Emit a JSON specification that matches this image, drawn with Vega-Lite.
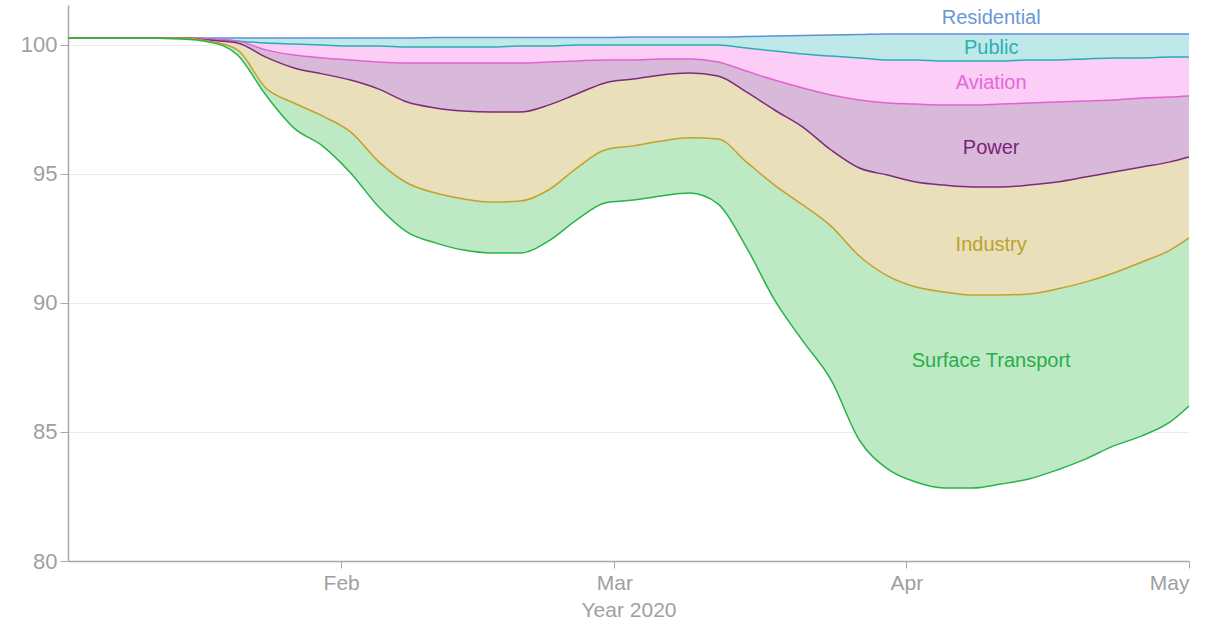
{
  "$schema": "https://vega.github.io/schema/vega-lite/v6.json",
  "width": 1121,
  "height": 556,
  "autosize": "none",
  "padding": {"left": 68, "top": 5, "right": 32, "bottom": 65},
  "background": "white",
  "config": {
    "view": {"stroke": null},
    "font": "Liberation Sans",
    "axis": {"labelFont": "Liberation Sans", "titleFont": "Liberation Sans", "titleFontWeight": "normal", "labelColor": "#a0a0a0", "titleColor": "#a0a0a0", "domainColor": "#a8a8a8", "tickColor": "#a8a8a8", "gridColor": "#ececec"}
  },
  "datasets": {
    "series": [
      {"date": "2020-01-03", "res": 100.27, "pub": 100.27, "av": 100.27, "pw": 100.27, "ind": 100.27, "st": 100.27},
      {"date": "2020-01-10", "res": 100.27, "pub": 100.27, "av": 100.27, "pw": 100.27, "ind": 100.27, "st": 100.27},
      {"date": "2020-01-15", "res": 100.27, "pub": 100.27, "av": 100.27, "pw": 100.27, "ind": 100.27, "st": 100.23},
      {"date": "2020-01-18", "res": 100.27, "pub": 100.23, "av": 100.23, "pw": 100.19, "ind": 100.15, "st": 100.12},
      {"date": "2020-01-21", "res": 100.27, "pub": 100.15, "av": 100.15, "pw": 100.08, "ind": 99.81, "st": 99.61},
      {"date": "2020-01-24", "res": 100.27, "pub": 100.08, "av": 99.81, "pw": 99.53, "ind": 98.33, "st": 98.06},
      {"date": "2020-01-27", "res": 100.27, "pub": 100.04, "av": 99.61, "pw": 99.11, "ind": 97.75, "st": 96.78},
      {"date": "2020-01-30", "res": 100.27, "pub": 100.0, "av": 99.5, "pw": 98.88, "ind": 97.25, "st": 96.09},
      {"date": "2020-02-02", "res": 100.27, "pub": 99.96, "av": 99.42, "pw": 98.64, "ind": 96.63, "st": 95.04},
      {"date": "2020-02-05", "res": 100.27, "pub": 99.96, "av": 99.34, "pw": 98.29, "ind": 95.47, "st": 93.72},
      {"date": "2020-02-08", "res": 100.27, "pub": 99.92, "av": 99.3, "pw": 97.79, "ind": 94.65, "st": 92.75},
      {"date": "2020-02-11", "res": 100.29, "pub": 99.92, "av": 99.3, "pw": 97.56, "ind": 94.26, "st": 92.33},
      {"date": "2020-02-14", "res": 100.29, "pub": 99.92, "av": 99.3, "pw": 97.44, "ind": 94.03, "st": 92.05},
      {"date": "2020-02-17", "res": 100.29, "pub": 99.92, "av": 99.3, "pw": 97.4, "ind": 93.91, "st": 91.94},
      {"date": "2020-02-20", "res": 100.29, "pub": 99.96, "av": 99.3, "pw": 97.4, "ind": 93.95, "st": 91.94},
      {"date": "2020-02-23", "res": 100.29, "pub": 99.96, "av": 99.34, "pw": 97.67, "ind": 94.38, "st": 92.4},
      {"date": "2020-02-26", "res": 100.29, "pub": 100.0, "av": 99.38, "pw": 98.1, "ind": 95.23, "st": 93.22},
      {"date": "2020-02-29", "res": 100.29, "pub": 100.0, "av": 99.42, "pw": 98.53, "ind": 95.93, "st": 93.88},
      {"date": "2020-03-03", "res": 100.31, "pub": 100.0, "av": 99.42, "pw": 98.68, "ind": 96.09, "st": 93.99},
      {"date": "2020-03-06", "res": 100.31, "pub": 100.0, "av": 99.46, "pw": 98.84, "ind": 96.28, "st": 94.15},
      {"date": "2020-03-09", "res": 100.31, "pub": 100.0, "av": 99.46, "pw": 98.91, "ind": 96.4, "st": 94.26},
      {"date": "2020-03-12", "res": 100.31, "pub": 100.0, "av": 99.34, "pw": 98.8, "ind": 96.36, "st": 93.84},
      {"date": "2020-03-15", "res": 100.33, "pub": 99.88, "av": 98.99, "pw": 98.18, "ind": 95.47, "st": 92.17},
      {"date": "2020-03-18", "res": 100.35, "pub": 99.77, "av": 98.64, "pw": 97.48, "ind": 94.57, "st": 90.12},
      {"date": "2020-03-21", "res": 100.37, "pub": 99.65, "av": 98.33, "pw": 96.82, "ind": 93.8, "st": 88.53},
      {"date": "2020-03-24", "res": 100.39, "pub": 99.57, "av": 98.06, "pw": 95.93, "ind": 92.98, "st": 87.02},
      {"date": "2020-03-27", "res": 100.41, "pub": 99.5, "av": 97.87, "pw": 95.23, "ind": 91.82, "st": 84.69},
      {"date": "2020-03-30", "res": 100.43, "pub": 99.42, "av": 97.75, "pw": 94.96, "ind": 91.05, "st": 83.57},
      {"date": "2020-04-02", "res": 100.43, "pub": 99.42, "av": 97.71, "pw": 94.69, "ind": 90.62, "st": 83.06},
      {"date": "2020-04-05", "res": 100.43, "pub": 99.38, "av": 97.67, "pw": 94.57, "ind": 90.43, "st": 82.83},
      {"date": "2020-04-08", "res": 100.43, "pub": 99.38, "av": 97.67, "pw": 94.5, "ind": 90.31, "st": 82.83},
      {"date": "2020-04-11", "res": 100.43, "pub": 99.38, "av": 97.71, "pw": 94.5, "ind": 90.31, "st": 82.98},
      {"date": "2020-04-14", "res": 100.43, "pub": 99.42, "av": 97.75, "pw": 94.57, "ind": 90.35, "st": 83.18},
      {"date": "2020-04-17", "res": 100.43, "pub": 99.42, "av": 97.79, "pw": 94.69, "ind": 90.54, "st": 83.53},
      {"date": "2020-04-20", "res": 100.43, "pub": 99.46, "av": 97.83, "pw": 94.88, "ind": 90.81, "st": 83.95},
      {"date": "2020-04-23", "res": 100.43, "pub": 99.5, "av": 97.87, "pw": 95.08, "ind": 91.16, "st": 84.46},
      {"date": "2020-04-26", "res": 100.43, "pub": 99.5, "av": 97.95, "pw": 95.27, "ind": 91.59, "st": 84.85},
      {"date": "2020-04-29", "res": 100.43, "pub": 99.53, "av": 97.98, "pw": 95.47, "ind": 92.05, "st": 85.39},
      {"date": "2020-05-01", "res": 100.43, "pub": 99.53, "av": 98.02, "pw": 95.66, "ind": 92.52, "st": 86.01}
    ],
    "labels": [
      {"date": "2020-04-10", "value": 101.05, "label": "Residential"},
      {"date": "2020-04-10", "value": 99.88, "label": "Public"},
      {"date": "2020-04-10", "value": 98.53, "label": "Aviation"},
      {"date": "2020-04-10", "value": 96.01, "label": "Power"},
      {"date": "2020-04-10", "value": 92.25, "label": "Industry"},
      {"date": "2020-04-10", "value": 87.75, "label": "Surface Transport"}
    ]
  },
  "encoding": {
    "x": {
      "field": "date",
      "type": "temporal",
      "scale": {"type": "utc", "domain": [{"year": 2020, "month": 1, "date": 3, "utc": true}, {"year": 2020, "month": 5, "date": 1, "utc": true}]},
      "axis": {"title": "Year 2020", "format": "%b", "tickCount": {"interval": "month"}, "grid": false, "labelFontSize": 21, "titleFontSize": 21, "tickSize": 7, "labelPadding": 4, "titlePadding": 6, "domainWidth": 1.5}
    }
  },
  "layer": [
    {
      "data": {"name": "series"},
      "mark": {"type": "area", "interpolate": "monotone", "color": "#bfe8e8"},
      "encoding": {
        "y": {"field": "res", "type": "quantitative", "scale": {"domain": [80, 101.55], "nice": false, "zero": false},
          "axis": {"title": null, "values": [80, 85, 90, 95, 100], "labelFontSize": 22, "tickSize": 8, "labelPadding": 3, "domainWidth": 1.5, "gridWidth": 1}},
        "y2": {"field": "pub"}
      }
    },
    {
      "data": {"name": "series"},
      "mark": {"type": "area", "interpolate": "monotone", "color": "#fccdf6"},
      "encoding": {"y": {"field": "pub", "type": "quantitative"}, "y2": {"field": "av"}}
    },
    {
      "data": {"name": "series"},
      "mark": {"type": "area", "interpolate": "monotone", "color": "#d9b9d9"},
      "encoding": {"y": {"field": "av", "type": "quantitative"}, "y2": {"field": "pw"}}
    },
    {
      "data": {"name": "series"},
      "mark": {"type": "area", "interpolate": "monotone", "color": "#e9dfba"},
      "encoding": {"y": {"field": "pw", "type": "quantitative"}, "y2": {"field": "ind"}}
    },
    {
      "data": {"name": "series"},
      "mark": {"type": "area", "interpolate": "monotone", "color": "#bee9c5"},
      "encoding": {"y": {"field": "ind", "type": "quantitative"}, "y2": {"field": "st"}}
    },
    {
      "data": {"name": "series"},
      "mark": {"type": "line", "interpolate": "monotone", "color": "#5f8fd8", "strokeWidth": 1.5},
      "encoding": {"y": {"field": "res", "type": "quantitative"}}
    },
    {
      "data": {"name": "series"},
      "mark": {"type": "line", "interpolate": "monotone", "color": "#27adb5", "strokeWidth": 1.5},
      "encoding": {"y": {"field": "pub", "type": "quantitative"}}
    },
    {
      "data": {"name": "series"},
      "mark": {"type": "line", "interpolate": "monotone", "color": "#e262d4", "strokeWidth": 1.5},
      "encoding": {"y": {"field": "av", "type": "quantitative"}}
    },
    {
      "data": {"name": "series"},
      "mark": {"type": "line", "interpolate": "monotone", "color": "#7c2a7c", "strokeWidth": 1.5},
      "encoding": {"y": {"field": "pw", "type": "quantitative"}}
    },
    {
      "data": {"name": "series"},
      "mark": {"type": "line", "interpolate": "monotone", "color": "#c2a22a", "strokeWidth": 1.5},
      "encoding": {"y": {"field": "ind", "type": "quantitative"}}
    },
    {
      "data": {"name": "series"},
      "mark": {"type": "line", "interpolate": "monotone", "color": "#27b34a", "strokeWidth": 1.5},
      "encoding": {"y": {"field": "st", "type": "quantitative"}}
    },
    {
      "data": {"values": [{"ref": 100.3}]},
      "mark": {"type": "rule", "color": "#555555", "strokeWidth": 1},
      "encoding": {"y": {"field": "ref", "type": "quantitative"}}
    },
    {
      "data": {"name": "labels"},
      "mark": {"type": "text", "fontSize": 20, "font": "Liberation Sans", "align": "center", "baseline": "middle"},
      "encoding": {
        "y": {"field": "value", "type": "quantitative"},
        "text": {"field": "label"},
        "color": {"field": "label", "type": "nominal", "legend": null,
          "scale": {"domain": ["Residential", "Public", "Aviation", "Power", "Industry", "Surface Transport"],
                    "range": ["#6a96d8", "#2ab0b5", "#e26ad6", "#7a237a", "#bfa02c", "#2aae4a"]}}
      }
    }
  ]
}
